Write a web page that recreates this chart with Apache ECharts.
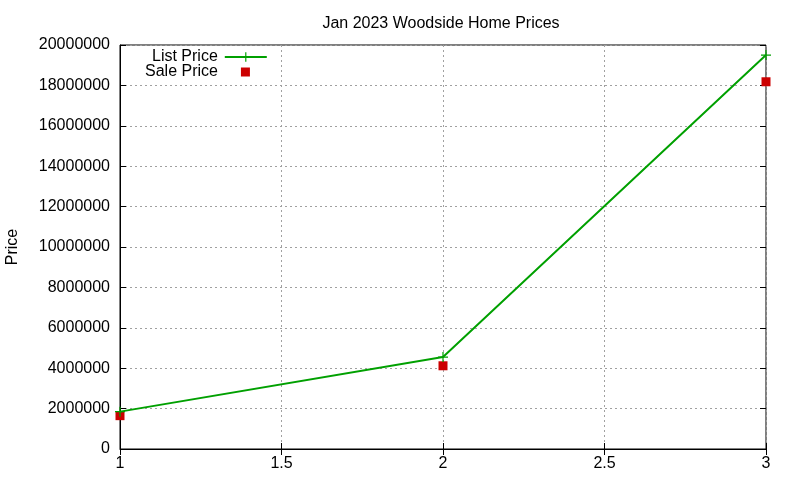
<!DOCTYPE html>
<html>
<head>
<meta charset="utf-8">
<script src="https://cdn.jsdelivr.net/npm/echarts@6/dist/echarts.min.js"></script>
<style>
  html, body { margin: 0; padding: 0; background: #fff; }
  #chart { width: 800px; height: 480px; }
</style>
</head>
<body>
<div id="chart"></div>
<script>
// values
const months = [1, 2, 3];
const listPrice = [1850000, 4550000, 19500000];
const salePrice = [1650000, 4120000, 18180000];
const titleText = "Jan 2023 Woodside Home Prices";

const FONT = "Liberation Sans";
const plusPath = "path://M-1.1,-9H1.1V-1.1H9V1.1H1.1V9H-1.1V1.1H-9V-1.1H-1.1Z";

let chart = echarts.init(document.getElementById("chart"));

let tickCommon = { show: true, inside: true, length: 6, lineStyle: { color: "#000" } };
let labelFont = { color: "#000", fontSize: 16, fontFamily: FONT };

let option = {
    animation: false,
    textStyle: { fontFamily: FONT },
    title: {
        text: titleText,
        left: 436,
        top: 11,
        textAlign: "center",
        textStyle: { fontFamily: FONT, fontSize: 16, fontWeight: "normal", color: "#000" }
    },
    legend: [{
        // list price row
        left: 152, top: 49, padding: 0,
        align: "right",
        itemWidth: 42, itemHeight: 12,
        textStyle: Object.assign({ padding: [0, 2, 0, 0] }, labelFont),
        data: ["List Price"]
    }, {
        // sale price row
        left: 145, top: 64, padding: 0,
        align: "right",
        itemWidth: 9, itemHeight: 9,
        textStyle: Object.assign({ padding: [0, 18, 0, 0] }, labelFont),
        data: ["Sale Price"]
    }],
    grid: {
        left: 120, right: 34, top: 45, bottom: 31,
        outerBoundsMode: "none",
        show: true, borderColor: "#000", borderWidth: 1
    },
    xAxis: [{
        type: "value",
        min: 1, max: 3, interval: 0.5,
        axisLine: { show: true, lineStyle: { color: "#000" } },
        axisTick: tickCommon,
        axisLabel: Object.assign({ margin: 7 }, labelFont),
        splitLine: { show: true, lineStyle: { color: "#a0a0a0", type: [2, 3], width: 1 } }
    }, {
        type: "value", position: "top",
        min: 1, max: 3, interval: 0.5,
        axisLine: { show: false }, axisTick: tickCommon,
        axisLabel: { show: false }, splitLine: { show: false }
    }],
    yAxis: [{
        type: "value",
        min: 0, max: 20000000, interval: 2000000,
        name: "Price",
        nameLocation: "middle",
        nameGap: 99,
        nameTextStyle: labelFont,
        axisLine: { show: true, lineStyle: { color: "#000" } },
        axisTick: tickCommon,
        axisLabel: Object.assign({ margin: 10, formatter: v => String(v) }, labelFont),
        splitLine: { show: true, lineStyle: { color: "#a0a0a0", type: [2, 3], width: 1 } }
    }, {
        type: "value", position: "right",
        min: 0, max: 20000000, interval: 2000000,
        axisLine: { show: false }, axisTick: tickCommon,
        axisLabel: { show: false }, splitLine: { show: false }
    }],
    series: [{
        name: "List Price",
        type: "line",
        data: months.map((m, i) => [m, listPrice[i]]),
        symbol: plusPath,
        symbolSize: 10,
        showAllSymbol: true,
        lineStyle: { color: "#00a000", width: 2 },
        itemStyle: { color: "#00a000" },
        z: 3
    }, {
        name: "Sale Price",
        type: "scatter",
        data: months.map((m, i) => [m, salePrice[i]]),
        symbol: "rect",
        symbolSize: 9,
        itemStyle: { color: "#cc0000", opacity: 1 },
        z: 2
    }]
};

chart.setOption(option);
</script>
</body>
</html>
